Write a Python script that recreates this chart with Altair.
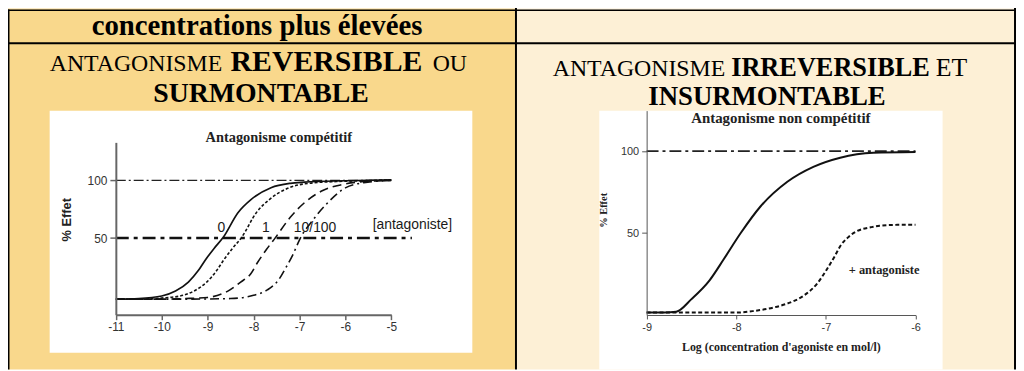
import altair as alt
import pandas as pd

OFF = 8  # page margin: page pixel (x, y) -> chart pixel (x - 8, y - 8)

# ---------------- data ----------------
# Left panel: "Antagonisme compétitif" (log concentration vs % effet)
comp_x_0 = [-11, -10.5, -10, -9.7, -9.42, -9.2, -9.05, -8.86, -8.66, -8.34, -8.05, -7.62, -7.2, -6.89, -6.0, -5.0]
comp_y_0 = [-3, -2.5, -0.3, 4, 11.8, 22, 31, 41, 50.6, 72, 83.6, 93.7, 97.5, 98.5, 99.7, 100.5]
comp_x_1 = [-11, -10.5, -10, -9.6, -9.3, -9.02, -8.8, -8.65, -8.46, -8.26, -7.94, -7.65, -7.22, -6.8, -6.2, -5.6, -5.0]
comp_y_1 = [-3, -3, -2, -0.3, 4, 11.8, 22, 31, 41, 50.6, 72, 83.6, 93.7, 97.5, 99, 99.7, 100.5]
comp_x_10 = [-11, -10, -9.5, -9.0, -8.56, -8.28, -8.06, -7.91, -7.72, -7.52, -7.2, -6.91, -6.48, -6.06, -5.5, -5.0]
comp_y_10 = [-3, -3, -2.5, -1.5, 4, 11.8, 19, 29, 40, 50.6, 68, 80, 91.5, 96.5, 99.3, 100]
comp_x_100 = [-11, -9.5, -8.5, -8.0, -7.7, -7.45, -7.3, -7.15, -6.98, -6.7, -6.4, -6.0, -5.6, -5.0]
comp_y_100 = [-3, -3, -2.5, 0.3, 5, 14, 24, 35, 50, 66, 80, 93.5, 98, 100]
comp_ref_y = [100, 50]
comp_ref_x_start = [-11, -11]
comp_ref_x_end = [-5, -4.55]
comp_labels = ["0", "1", "10/100", "[antagoniste]"]
comp_label_x = [-8.70, -7.73, -6.66, -4.54]
comp_label_y = [59, 59, 59, 61.6]
comp_x_ticks = [-11, -10, -9, -8, -7, -6, -5]
comp_y_ticks = [50, 100]

# Right panel: "Antagonisme non compétitif"
nc_x_ctrl = [-9, -8.8, -8.67, -8.5, -8.3, -8.14, -7.95, -7.73, -7.43, -7.14, -6.84, -6.47, -6.0]
nc_y_ctrl = [1.5, 1.5, 2, 9.7, 21, 34, 50, 66.2, 81.3, 90.4, 96, 99, 99.5]
nc_x_ant = [-9, -8.5, -8.0, -7.8, -7.58, -7.43, -7.25, -7.1, -6.99, -6.9, -6.84, -6.75, -6.66, -6.5, -6.4, -6.2, -6.0]
nc_y_ant = [1.5, 1.5, 1.5, 2.5, 4.6, 7, 11.7, 19, 27.8, 36, 42, 47.5, 51, 53.5, 54.5, 55, 55]
nc_ref_y = [100]
nc_ref_x_start = [-9]
nc_ref_x_end = [-6]
nc_labels = ["+ antagoniste"]
nc_label_x = [-6.35]
nc_label_y = [27.4]
nc_x_ticks = [-9, -8, -7, -6]
nc_y_ticks = [50, 100]

# ---------------- helpers ----------------
ONE = pd.DataFrame({"k": [0]})
SANS = "Liberation Sans"
SERIF = "Liberation Serif"


def ptext(text, x, y, size, font=SERIF, weight="normal", align="center",
          baseline="alphabetic", angle=0, color="#000000"):
    kw = dict(text=text, fontSize=size, font=font, fontWeight=weight,
              align=align, baseline=baseline, color=color)
    if angle:
        kw["angle"] = angle
    return alt.Chart(ONE).mark_text(**kw).encode(
        x=alt.value(x - OFF), y=alt.value(y - OFF))


def prect(x1, y1, x2, y2, color):
    return alt.Chart(ONE).mark_rect(color=color, strokeWidth=0).encode(
        x=alt.value(x1 - OFF), x2=alt.value(x2 - OFF),
        y=alt.value(y1 - OFF), y2=alt.value(y2 - OFF))


H = 363
W = 1016

# ---------------- left panel ----------------
LX = alt.Scale(domain=[-11, -5], range=[116.7 - OFF, 394.3 - OFF], nice=False, zero=False)
LY = alt.Scale(domain=[-16.5, 133], range=[315.7 - OFF, 142 - OFF], nice=False, zero=False)
LXA = alt.Axis(orient="bottom", offset=-(H - (315.7 - OFF)), values=comp_x_ticks, title=None,
               grid=False, tickSize=5, labelFont=SANS, labelFontSize=12, labelColor="#333333",
               domainColor="#666666", tickColor="#666666", domainWidth=2, tickWidth=1.5,
               labelPadding=2, labelExpr="datum.value + ''", labelFlush=False, zindex=2)
LYA = alt.Axis(orient="left", offset=-(116.7 - OFF), values=comp_y_ticks, title=None,
               grid=False, tickSize=6, labelFont=SANS, labelFontSize=12, labelColor="#333333",
               domainColor="#666666", tickColor="#666666", domainWidth=2, tickWidth=1.5,
               labelPadding=3, labelExpr="datum.value + ''", labelFlush=False, zindex=2)


def lcurve(xs, ys, dash, width=1.6):
    kw = dict(color="#111111", strokeWidth=width, interpolate="monotone")
    if dash:
        kw["strokeDash"] = dash
    return alt.Chart(pd.DataFrame({"x": xs, "y": ys})).mark_line(**kw).encode(
        x=alt.X("x:Q", scale=LX, axis=LXA), y=alt.Y("y:Q", scale=LY, axis=LYA))


ref_df = pd.DataFrame({"y": comp_ref_y, "x": comp_ref_x_start, "x2": comp_ref_x_end})
left_ref100 = alt.Chart(ref_df.iloc[[0]]).mark_rule(
    color="#222222", strokeWidth=1.2, strokeDash=[10, 3, 2, 3]).encode(
    x=alt.X("x:Q", scale=LX, axis=LXA), x2="x2:Q", y=alt.Y("y:Q", scale=LY, axis=LYA))
left_ref50 = alt.Chart(ref_df.iloc[[1]]).mark_rule(
    color="#111111", strokeWidth=2.6, strokeDash=[13, 5, 4, 5]).encode(
    x=alt.X("x:Q", scale=LX, axis=LXA), x2="x2:Q", y=alt.Y("y:Q", scale=LY, axis=LYA))
left_labels = alt.Chart(pd.DataFrame({"t": comp_labels, "x": comp_label_x, "y": comp_label_y})).mark_text(
    font=SANS, fontSize=14, color="#1a1a1a", baseline="middle", align="center").encode(
    x=alt.X("x:Q", scale=LX, axis=LXA), y=alt.Y("y:Q", scale=LY, axis=LYA), text="t:N")

left_panel = alt.layer(
    left_ref100, left_ref50,
    lcurve(comp_x_0, comp_y_0, None, 1.7),
    lcurve(comp_x_1, comp_y_1, [3, 2]),
    lcurve(comp_x_10, comp_y_10, [9, 5]),
    lcurve(comp_x_100, comp_y_100, [9, 4, 2, 4]),
    left_labels,
)

# ---------------- right panel ----------------
RX = alt.Scale(domain=[-9, -6], range=[651.7 - OFF, 922.7 - OFF], nice=False, zero=False)
RY = alt.Scale(domain=[0, 124.7], range=[316 - OFF, 110 - OFF], nice=False, zero=False)
RXA = alt.Axis(orient="bottom", offset=-(H - (316 - OFF)), values=nc_x_ticks, title=None,
               grid=False, tickSize=4, labelFont=SANS, labelFontSize=11, labelColor="#333333",
               domainColor="#555555", tickColor="#555555", domainWidth=1, tickWidth=1,
               labelPadding=3, labelExpr="datum.value + ''", labelFlush=False, zindex=2)
RYA = alt.Axis(orient="left", offset=-(651.7 - OFF), values=nc_y_ticks, title=None,
               grid=False, tickSize=5, labelFont=SANS, labelFontSize=11, labelColor="#333333",
               domainColor="#555555", tickColor="#555555", domainWidth=1, tickWidth=1,
               labelPadding=3, labelExpr="datum.value + ''", labelFlush=False, zindex=2)


def rcurve(xs, ys, dash, width=2):
    kw = dict(color="#111111", strokeWidth=width, interpolate="monotone")
    if dash:
        kw["strokeDash"] = dash
    return alt.Chart(pd.DataFrame({"x": xs, "y": ys})).mark_line(**kw).encode(
        x=alt.X("x:Q", scale=RX, axis=RXA), y=alt.Y("y:Q", scale=RY, axis=RYA))


right_ref = alt.Chart(pd.DataFrame({"y": nc_ref_y, "x": nc_ref_x_start, "x2": nc_ref_x_end})).mark_rule(
    color="#222222", strokeWidth=1.6, strokeDash=[12, 4, 3, 4]).encode(
    x=alt.X("x:Q", scale=RX, axis=RXA), x2="x2:Q", y=alt.Y("y:Q", scale=RY, axis=RYA))
right_labels = alt.Chart(pd.DataFrame({"t": nc_labels, "x": nc_label_x, "y": nc_label_y})).mark_text(
    font=SERIF, fontSize=12.5, fontWeight="bold", color="#222222", baseline="middle", align="center").encode(
    x=alt.X("x:Q", scale=RX, axis=RXA), y=alt.Y("y:Q", scale=RY, axis=RYA), text="t:N")

right_panel = alt.layer(
    right_ref,
    rcurve(nc_x_ctrl, nc_y_ctrl, None, 2),
    rcurve(nc_x_ant, nc_y_ant, [4, 2.5], 2),
    right_labels,
)

# ---------------- table decoration ----------------
LEFT_BG = "#F9D88C"
RIGHT_BG = "#FDF0D6"
deco = [
    prect(8, 7, 519, 371, LEFT_BG),
    prect(521, 7, 1022, 371, RIGHT_BG),
    prect(8, 8, 1024, 9.5, "#000000"),
    prect(8, 8, 9.5, 371, "#000000"),
    prect(6, 41, 1024, 43, "#000000"),
    prect(519, 5, 521, 371, "#000000"),
    prect(1022, 5, 1024, 371, "#000000"),
    prect(50, 110, 476, 354, "#FFFFFF"),
    prect(604, 110, 950, 371, "#FFFFFF"),
]

texts = [
    ptext("concentrations plus élevées", 259, 34, 29, weight="bold"),
    ptext("ANTAGONISME", 224, 70.5, 24, align="right"),
    ptext("REVERSIBLE", 329, 70.5, 30, weight="bold"),
    ptext("OU", 436, 70.5, 24, align="left"),
    ptext("SURMONTABLE", 263, 101.5, 28, weight="bold"),
    ptext("ANTAGONISME", 731, 75.5, 24, align="right"),
    ptext("IRREVERSIBLE", 837, 75.5, 26.5, weight="bold"),
    ptext("ET", 943, 75.5, 26, align="left"),
    ptext("INSURMONTABLE", 773, 104, 27, weight="bold"),
    # left panel titles
    ptext("Antagonisme compétitif", 281, 138, 14.5, weight="bold", baseline="middle", color="#222222"),
    ptext("% Effet", 68, 220, 13, font=SANS, weight="bold", baseline="middle", angle=270, color="#222222"),
    # right panel titles
    ptext("Antagonisme non compétitif", 787, 117, 15, weight="bold", baseline="middle", color="#222222"),
    ptext("% Effet", 609, 210.5, 10.5, weight="bold", baseline="middle", angle=270, color="#222222"),
    ptext("Log (concentration d'agoniste en mol/l)", 787.5, 348, 12, weight="bold",
          baseline="middle", color="#222222"),
]

chart = alt.layer(*deco, left_panel, right_panel, *texts).resolve_scale(
    x="independent", y="independent"
).properties(
    width=W, height=H, padding=0, background="white",
    autosize=alt.AutoSizeParams(type="none"),
).configure_view(stroke=None)

chart.save("out.html", embed_options={"renderer": "svg", "actions": False})
